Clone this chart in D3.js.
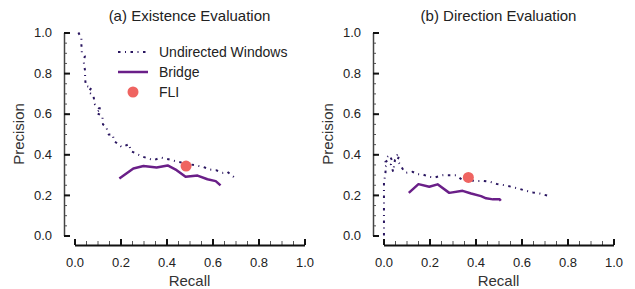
<!DOCTYPE html>
<html>
<head>
<meta charset="utf-8">
<script src="https://cdn.jsdelivr.net/npm/d3@7"></script>
<style>
  body { margin: 0; background: #fff; }
  svg { font-family: "Liberation Sans", Arial, sans-serif; }
</style>
</head>
<body>
<svg id="chart" width="635" height="289"></svg>
<script>
// (a) Existence Evaluation
var recallA_uw = [0.017,0.03,0.03,0.032,0.045,0.04,0.046,0.046,0.05,0.075,0.06,0.082,0.089,0.104,0.118,0.093,0.121,0.124,0.137,0.149,0.166,0.172,0.205,0.238,0.244,0.292,0.343,0.376,0.408,0.441,0.48,0.524,0.56,0.589,0.615,0.644,0.664,0.695];
var precA_uw = [1.0,0.97,0.94,0.90,0.883,0.857,0.81,0.77,0.736,0.73,0.707,0.69,0.645,0.628,0.625,0.605,0.589,0.547,0.537,0.497,0.497,0.466,0.436,0.45,0.417,0.39,0.371,0.384,0.376,0.366,0.355,0.346,0.338,0.325,0.322,0.309,0.314,0.286];
var recallA_br = [0.195,0.256,0.3,0.357,0.405,0.444,0.483,0.535,0.578,0.614,0.635];
var precA_br = [0.281,0.33,0.342,0.335,0.345,0.322,0.289,0.295,0.277,0.268,0.247];
var fliA = [0.485, 0.342];

// (b) Direction Evaluation
var recallB_uw = [0.002,0.002,0.002,0.002,0.002,0.002,0.002,0.002,0.006,0.009,0.006,0.016,0.009,0.02,0.016,0.026,0.038,0.032,0.042,0.05,0.06,0.07,0.06,0.075,0.082,0.097,0.126,0.148,0.17,0.199,0.224,0.257,0.286,0.315,0.34,0.37,0.398,0.435,0.464,0.495,0.524,0.556,0.585,0.62,0.65,0.679,0.72];
var precB_uw = [0.0,0.043,0.085,0.125,0.161,0.199,0.232,0.264,0.289,0.314,0.338,0.346,0.363,0.371,0.387,0.396,0.368,0.351,0.314,0.374,0.396,0.40,0.368,0.346,0.33,0.309,0.314,0.302,0.301,0.289,0.286,0.297,0.297,0.297,0.276,0.272,0.269,0.269,0.264,0.253,0.248,0.24,0.232,0.22,0.212,0.207,0.194];
var recallB_br = [0.11,0.152,0.199,0.235,0.286,0.344,0.381,0.424,0.446,0.476,0.505,0.51];
var precB_br = [0.21,0.253,0.24,0.252,0.21,0.22,0.207,0.194,0.183,0.178,0.178,0.171];
var fliB = [0.369, 0.286];

var ticks = [0, 0.2, 0.4, 0.6, 0.8, 1.0];
var minorTicks = d3.range(0, 1.0001, 0.05);
var seriesNames = ["Undirected Windows", "Bridge", "FLI"];

var colUW = "#2a1660", colBR = "#6a1f88", colFLI = "#ef6461";
var dashUW = "2.5,4.5,1,4.5";

var svg = d3.select("#chart");

function zip(a, b) { return a.map(function (d, i) { return [d, b[i]]; }); }

function drawPanel(ox, title, uw, br, fli, legend) {
  var g = svg.append("g").attr("transform", "translate(" + ox + ",0)");
  var x = d3.scaleLinear().domain([0, 1]).range([74.5, 304.5]);
  var y = d3.scaleLinear().domain([0, 1]).range([235.5, 32.5]);
  var axisX = 64, axisY = 245;

  // y axis, ticks pointing inward
  var yMinor = g.append("g").attr("transform", "translate(" + axisX + ",0)")
    .call(d3.axisLeft(y).tickValues(minorTicks).tickSize(-3).tickFormat(""));
  yMinor.select(".domain").remove();
  yMinor.selectAll("line").attr("stroke", "#555").attr("stroke-width", 1);

  var yAx = g.append("g").attr("transform", "translate(" + axisX + ",0)")
    .call(d3.axisLeft(y).tickValues(ticks).tickSize(-6).tickSizeOuter(0).tickPadding(12).tickFormat(d3.format(".1f")));
  yAx.select(".domain").attr("stroke", "#444").attr("stroke-width", 1.5);
  yAx.selectAll("line").attr("stroke", "#111").attr("stroke-width", 2);
  yAx.selectAll("text").attr("font-size", 13).attr("fill", "#222").attr("font-family", null);

  // x axis
  var xMinor = g.append("g").attr("transform", "translate(0," + axisY + ")")
    .call(d3.axisBottom(x).tickValues(minorTicks).tickSize(-4).tickFormat(""));
  xMinor.select(".domain").remove();
  xMinor.selectAll("line").attr("stroke", "#555").attr("stroke-width", 1);

  var xAx = g.append("g").attr("transform", "translate(0," + axisY + ")")
    .call(d3.axisBottom(x).tickValues(ticks).tickSize(-6).tickSizeOuter(0).tickPadding(13).tickFormat(d3.format(".1f")));
  xAx.select(".domain").attr("stroke", "#111").attr("stroke-width", 2);
  xAx.selectAll("line").attr("stroke", "#111").attr("stroke-width", 2);
  xAx.selectAll("text").attr("font-size", 13).attr("fill", "#222").attr("font-family", null);

  // labels
  g.append("text").attr("x", 189.5).attr("y", 21).attr("text-anchor", "middle")
    .attr("font-size", 15).attr("fill", "#222").text(title);
  g.append("text").attr("x", 189.5).attr("y", 286).attr("text-anchor", "middle")
    .attr("font-size", 15).attr("fill", "#333").text("Recall");
  g.append("text").attr("transform", "translate(24,134) rotate(-90)").attr("text-anchor", "middle")
    .attr("font-size", 15).attr("fill", "#333").text("Precision");

  var line = d3.line().x(function (d) { return x(d[0]); }).y(function (d) { return y(d[1]); });

  g.append("path").datum(uw).attr("d", line).attr("fill", "none")
    .attr("stroke", colUW).attr("stroke-width", 2).attr("stroke-dasharray", dashUW);
  g.append("path").datum(br).attr("d", line).attr("fill", "none")
    .attr("stroke", colBR).attr("stroke-width", 2.5).attr("stroke-linejoin", "round");
  g.append("circle").attr("cx", x(fli[0])).attr("cy", y(fli[1])).attr("r", 5.5).attr("fill", colFLI);

  if (legend) {
    var lg = g.append("g");
    var rows = [52, 72, 92];
    lg.append("line").attr("x1", 118).attr("x2", 146).attr("y1", rows[0]).attr("y2", rows[0])
      .attr("stroke", colUW).attr("stroke-width", 2).attr("stroke-dasharray", dashUW);
    lg.append("line").attr("x1", 118).attr("x2", 148).attr("y1", rows[1]).attr("y2", rows[1])
      .attr("stroke", colBR).attr("stroke-width", 2.5);
    lg.append("circle").attr("cx", 133).attr("cy", rows[2]).attr("r", 5.5).attr("fill", colFLI);
    lg.selectAll("text.leg").data(seriesNames).enter().append("text")
      .attr("x", 159).attr("y", function (d, i) { return rows[i]; }).attr("dy", "0.35em")
      .attr("font-size", 14).attr("fill", "#222").text(function (d) { return d; });
  }
}

drawPanel(0, "(a) Existence Evaluation", zip(recallA_uw, precA_uw), zip(recallA_br, precA_br), fliA, true);
drawPanel(309, "(b) Direction Evaluation", zip(recallB_uw, precB_uw), zip(recallB_br, precB_br), fliB, false);
</script>
</body>
</html>
